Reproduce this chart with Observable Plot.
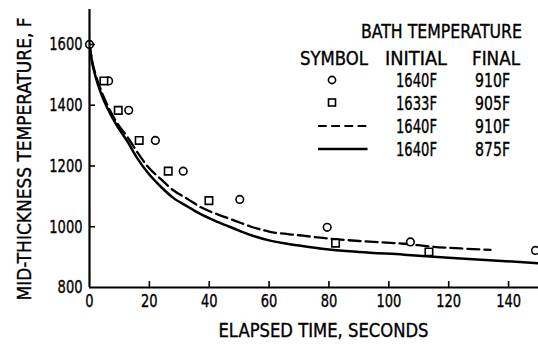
<!DOCTYPE html>
<html><head><meta charset="utf-8">
<script src="https://cdn.jsdelivr.net/npm/d3@7"></script>
<script src="https://cdn.jsdelivr.net/npm/@observablehq/plot@0.6"></script>
<style>
body{margin:0;background:#fff;}
#wrap{position:relative;width:538px;height:348px;}
#wrap svg{position:absolute;left:0;top:0;}
</style></head><body><div id="wrap"></div>
<script>
// ---- data ----
const xTicks = [0, 20, 40, 60, 80, 100, 120, 140];
const yTicks = [800, 1000, 1200, 1400, 1600];

const circleTime = [0, 6.4, 13.1, 22, 31.3, 50.2, 79.4, 107.2, 149];
const circleTemp = [1600, 1480, 1383, 1284, 1183, 1090, 998, 950, 922];

const squareTime = [4.8, 9.6, 16.6, 26.3, 39.9, 82.2, 113.4];
const squareTemp = [1480, 1383, 1284, 1183, 1086, 946, 917];

const solidTime = [0, 1, 2, 4, 6, 9, 12.7, 16, 19.3, 24, 28, 33, 37, 43, 48, 54, 60, 70, 80, 90, 105, 120, 135, 150];
const solidTemp = [1600, 1535, 1495, 1435, 1390, 1335, 1280, 1225, 1180, 1130, 1095, 1065, 1042, 1015, 995, 972, 955, 938, 925, 917, 908, 898, 889, 880];

const dashedTime = [0, 1, 2, 4, 6, 9, 12.7, 16, 19.3, 24, 28, 33, 37, 43, 48, 54, 60, 70, 78, 90, 105, 115, 125, 134];
const dashedTemp = [1600, 1540, 1502, 1445, 1400, 1345, 1295, 1245, 1200, 1155, 1120, 1090, 1065, 1040, 1022, 1000, 984, 972, 963, 953, 944, 934, 928, 924];

const xTitle = "ELAPSED TIME, SECONDS";
const yTitle = "MID-THICKNESS TEMPERATURE, F";
const legendTitle = "BATH TEMPERATURE";
const legendHeaders = ["SYMBOL", "INITIAL", "FINAL"];
const legendSymbols = ["circle", "square", "dashed", "solid"];
const legendInitial = ["1640F", "1633F", "1640F", "1640F"];
const legendFinal = ["910F", "905F", "910F", "875F"];

// ---- build ----
const font = "'Liberation Sans Narrow','DejaVu Sans Condensed',sans-serif";
const pts = (ts, vs) => ts.map((t, i) => ({t, v: vs[i]}));
const circles = pts(circleTime, circleTemp);
const squares = pts(squareTime, squareTemp);
const solid = pts(solidTime, solidTemp);
const dashed = pts(dashedTime, dashedTemp);

const W = 538, H = 348, mL = 89, mR = 0, mT = 9, mB = 61;
const frameH = H - mT - mB, frameW = W - mL - mR;

const plot = Plot.plot({
  width: W, height: H,
  marginLeft: mL, marginRight: mR, marginTop: mT, marginBottom: mB,
  style: {fontFamily: font, fontSize: "18.5px", color: "#000", background: "#fff", overflow: "visible"},
  x: {domain: [0, 150]},
  y: {domain: [800, 1715]},
  marks: [
    Plot.line(solid, {x: "t", y: "v", stroke: "#000", strokeWidth: 2.5, curve: "monotone-x"}),
    Plot.line(dashed, {x: "t", y: "v", stroke: "#000", strokeWidth: 2.3, strokeDasharray: "12,5", curve: "monotone-x"}),
    Plot.dot(circles, {x: "t", y: "v", r: 3.8, stroke: "#000", fill: "#fff", strokeWidth: 1.6}),
    Plot.dot(squares, {x: "t", y: "v", symbol: "square", r: 4.2, stroke: "#000", fill: "#fff", strokeWidth: 1.6}),
    Plot.tickX(xTicks.slice(1), {x: d => d, insetTop: frameH - 6, stroke: "#000", strokeWidth: 1.6}),
    Plot.tickY(yTicks.slice(1), {y: d => d, insetRight: frameW - 6, stroke: "#000", strokeWidth: 1.6}),
    Plot.ruleX([0], {stroke: "#000", strokeWidth: 2.2}),
    Plot.ruleY([800], {stroke: "#000", strokeWidth: 2.2}),
    Plot.axisX({ticks: xTicks, tickSize: 0, tickPadding: 6, label: null, tickFormat: d => String(d)}),
    Plot.axisY({ticks: yTicks, tickSize: 0, tickPadding: 7, label: null, tickFormat: d => String(d)}),
    Plot.text([xTitle], {text: d => d, frameAnchor: "bottom", textAnchor: "middle", lineAnchor: "middle", dx: 9.5, dy: 43, fontSize: 19}),
    Plot.text([yTitle], {text: d => d, frameAnchor: "left", textAnchor: "middle", lineAnchor: "middle", rotate: -90, dx: -64.5, dy: 10.5, fontSize: 19})
  ]
});
const wrap = document.getElementById("wrap");
wrap.appendChild(plot);

// condense glyphs to match the narrow typeface of the original
const titleLen = {[xTitle]: 210, [yTitle]: 283};
d3.select(plot).selectAll("text").each(function() {
  const s = this.textContent;
  const len = titleLen[s] || (/^\d+$/.test(s) ? s.length * 8.3 : 0);
  if (len) d3.select(this).attr("textLength", len).attr("lengthAdjust", "spacingAndGlyphs");
  d3.select(this).attr("stroke", "#000").attr("stroke-width", 0.35);
});

// ---- legend overlay ----
const svg = d3.select(wrap).append("svg")
  .attr("width", W).attr("height", H)
  .style("font-family", font).style("font-size", "19px").style("pointer-events", "none");
const tx = (x, y, s, len) => {
  const t = svg.append("text").attr("x", x).attr("y", y).attr("text-anchor", "middle")
    .attr("fill", "#000").attr("stroke", "#000").attr("stroke-width", 0.35).text(s);
  if (len) t.attr("textLength", len).attr("lengthAdjust", "spacingAndGlyphs");
  return t;
};
tx(441.5, 38, legendTitle, 161);
const hdrX = [334, 416, 496], hdrLen = [68, 62, 48];
legendHeaders.forEach((h, i) => tx(hdrX[i], 65, h, hdrLen[i]));
const rowY = [80, 102.5, 125.5, 148.5];
legendSymbols.forEach((s, i) => {
  const y = rowY[i];
  if (s === "circle") svg.append("circle").attr("cx", 332).attr("cy", y).attr("r", 3.6).attr("fill", "#fff").attr("stroke", "#000").attr("stroke-width", 1.6);
  else if (s === "square") svg.append("rect").attr("x", 328.5).attr("y", y - 3.5).attr("width", 7).attr("height", 7).attr("fill", "#fff").attr("stroke", "#000").attr("stroke-width", 1.6);
  else svg.append("line").attr("x1", 318).attr("x2", 367.5).attr("y1", y + 0.5).attr("y2", y + 0.5)
    .attr("stroke", "#000").attr("stroke-width", s === "solid" ? 2.6 : 2.2)
    .attr("stroke-dasharray", s === "dashed" ? "8.7,4.5" : null);
  tx(416.5, y + 7, legendInitial[i], 41);
  tx(492.5, y + 7, legendFinal[i], 35);
});
</script></body></html>
